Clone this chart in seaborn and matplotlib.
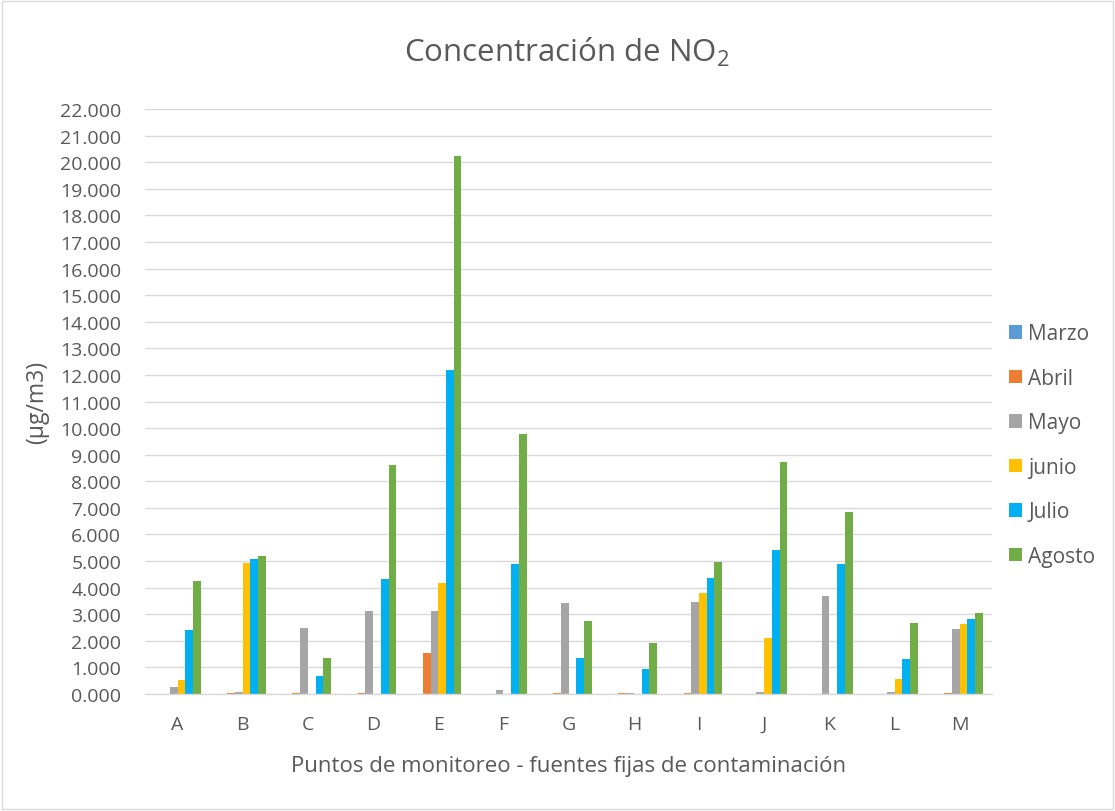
import matplotlib
matplotlib.use("Agg")
import matplotlib.pyplot as plt
import seaborn as sns
import pandas as pd
from matplotlib.patches import Rectangle

puntos = ["A", "B", "C", "D", "E", "F", "G", "H", "I", "J", "K", "L", "M"]
meses = ["Marzo", "Abril", "Mayo", "junio", "Julio", "Agosto"]
marzo = [0.0, 0.0, 0.0, 0.0, 0.0, 0.0, 0.0, 0.0, 0.0, 0.0, 0.0, 0.0, 0.0]
abril = [0.0, 0.02, 0.02, 0.04, 1.56, 0.0, 0.05, 0.03, 0.02, 0.0, 0.0, 0.0, 0.02]
mayo = [0.28, 0.08, 2.47, 3.11, 3.14, 0.15, 3.41, 0.03, 3.46, 0.08, 3.67, 0.08, 2.43]
junio = [0.54, 4.92, 0.0, 0.0, 4.16, 0.0, 0.0, 0.0, 3.79, 2.09, 0.0, 0.55, 2.62]
julio = [2.42, 5.07, 0.67, 4.31, 12.17, 4.88, 1.37, 0.94, 4.38, 5.41, 4.88, 1.33, 2.81]
agosto = [4.26, 5.19, 1.36, 8.63, 20.22, 9.77, 2.75, 1.90, 4.96, 8.72, 6.84, 2.68, 3.03]
colores = ["#5B9BD5", "#ED7D31", "#A5A5A5", "#FFC000", "#00B0F0", "#70AD47"]
yticks = list(range(0, 23))

series = [marzo, abril, mayo, junio, julio, agosto]
rows = []
for mes, vals in zip(meses, series):
    for p, v in zip(puntos, vals):
        rows.append({"Punto": p, "Mes": mes, "Valor": v})
df = pd.DataFrame(rows)

sns.set_theme(style="white")
plt.rcParams["font.family"] = ["Open Sans", "DejaVu Sans"]
plt.rcParams["mathtext.default"] = "regular"
txt = "#595959"

fig = plt.figure(figsize=(11.15, 8.12), dpi=100)
ax = fig.add_axes([0.130, 0.1441, 0.760, 0.7204])

sns.barplot(data=df, x="Punto", y="Valor", hue="Mes", order=puntos, hue_order=meses,
            palette=colores, width=0.71, saturation=1, ax=ax, linewidth=0, errorbar=None)

ax.set_ylim(0, 22)
ax.set_xlim(-0.5, 12.5)
ax.set_yticks(yticks)
ax.set_yticklabels([f"{v:.3f}" for v in yticks])
ax.yaxis.grid(True, color="#D9D9D9", linewidth=1)
ax.set_axisbelow(True)
for s in ["top", "right", "left"]:
    ax.spines[s].set_visible(False)
ax.spines["bottom"].set_color("#D9D9D9")
ax.spines["bottom"].set_linewidth(1)
ax.tick_params(axis="both", length=0, labelsize=14, colors=txt)
ax.tick_params(axis="x", pad=15)
ax.tick_params(axis="y", pad=17)
ax.set_xlabel("Puntos de monitoreo - fuentes fijas de contaminación", fontsize=16, color=txt, labelpad=16)
ax.set_ylabel("(µg/m3)", fontsize=16.5, color=txt, labelpad=8)
fig.text(0.508, 1 - 62 / 812, "Concentración de NO$_{2}$", ha="center", va="baseline",
         fontsize=22.5, color=txt)

fig.legend(handles=ax.get_legend_handles_labels()[0], labels=meses,
           loc="center left", bbox_to_anchor=(0.905, 1 - 446 / 812), frameon=False, fontsize=15,
           labelcolor=txt, handlelength=0.62, handleheight=0.62, labelspacing=1.13,
           handletextpad=0.3, borderpad=0, borderaxespad=0)
ax.get_legend().remove()

fig.patches.append(Rectangle((0.002, 0.002), 0.996, 0.996, transform=fig.transFigure,
                             fill=False, edgecolor="#D9D9D9", linewidth=1))

fig.savefig("out.png", dpi=100)
